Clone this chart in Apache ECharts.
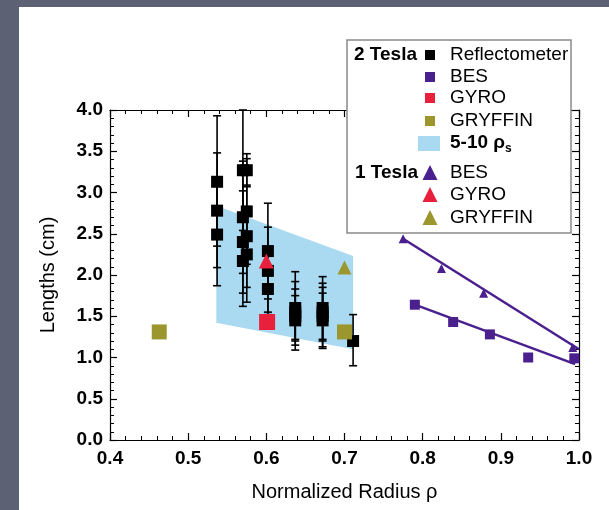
<!DOCTYPE html>
<html><head><meta charset="utf-8">
<script src="https://cdn.jsdelivr.net/npm/echarts@6/dist/echarts.min.js"></script>
<style>html,body{margin:0;padding:0;background:#5c6274}#c{width:609px;height:510px}</style>
</head><body><div id="c"></div><script>
// ---- data ----
const xRange = [0.4, 1.0];
const yRange = [0.0, 4.0];
// Reflectometer (2 T) points with error bars
const reflX  = [0.537,0.537,0.537, 0.570,0.570,0.570,0.570, 0.575,0.575,0.575,0.575, 0.602,0.602,0.602, 0.637,0.637,0.637,0.637, 0.672,0.672,0.672,0.672, 0.711];
const reflY  = [3.13,2.78,2.49, 3.27,2.70,2.40,2.17, 3.27,2.77,2.47,2.25, 2.29,2.05,1.83, 1.60,1.55,1.50,1.45, 1.60,1.55,1.50,1.45, 1.20];
const reflLo = [2.35,2.09,1.87, 2.54,2.02,1.78,1.62, 3.07,2.13,1.85,1.67, 1.71,1.52,1.55, 1.22,1.20,1.15,1.09, 1.22,1.20,1.13,1.11, 0.90];
const reflHi = [3.93,3.48,3.11, 4.00,3.38,3.02,2.72, 3.47,3.41,3.09,2.83, 2.87,2.58,2.11, 2.04,1.92,1.83,1.75, 1.98,1.90,1.85,1.78, 1.52];
// BES 2 T
const bes2X = [0.790,0.839,0.886,0.935,0.994];
const bes2Y = [1.64,1.43,1.28,1.00,0.99];
const bes2FitX = [0.790,0.995];
const bes2FitY = [1.64,0.92];
// BES 1 T
const bes1X = [0.775,0.824,0.878,0.992];
const bes1Y = [2.44,2.08,1.78,1.12];
const bes1FitX = [0.775,1.0];
const bes1FitY = [2.44,1.10];
// GYRO
const gyro2X = [0.601], gyro2Y = [1.43];
const gyro1X = [0.600], gyro1Y = [2.17];
// GRYFFIN
const gry2X = [0.463,0.700], gry2Y = [1.31,1.31];
const gry1X = [0.700], gry1Y = [2.09];
// 5-10 rho_s band
const bandX = [0.536,0.711];
const bandLow = [1.42,1.10];
const bandHigh = [2.84,2.23];
// legend
const legendGroups = ['2 Tesla','1 Tesla'];
const legendLabels = ['Reflectometer','BES','GYRO','GRYFFIN','5-10 ρs','BES','GYRO','GRYFFIN'];

// ---- styles ----
const FONT = 'Liberation Sans, Arial, Helvetica, sans-serif';
const C = {black:'#000000', purple:'#4a1f8e', red:'#e8203c', olive:'#9b962e', blue:'#a9daf2'};
const zip = (a,b)=>a.map((v,i)=>[v,b[i]]);

const chart = echarts.init(document.getElementById('c'), null, {renderer:'canvas'});

const axisCommon = {
  type:'value', axisLine:{show:true, onZero:false, lineStyle:{color:'#000', width:1.2}},
  axisTick:{show:true, inside:true, length:7, lineStyle:{color:'#000', width:1.2}},
  minorTick:{show:true, splitNumber:5, length:4, lineStyle:{color:'#000', width:1}},
  splitLine:{show:false}
};

const LZ = 200;
const legendItems = [];
// box
legendItems.push({type:'rect', z:LZ, shape:{x:347, y:40, width:224, height:193},
  style:{fill:'#fff', stroke:'#8a8a8a', lineWidth:1.5}});
const rowY = [55,77,98,121,143,173,195,218];
const markerKind = ['sq','sq','sq','sq','band','tri','tri','tri'];
const markerColor = [C.black,C.purple,C.red,C.olive,C.blue,C.purple,C.red,C.olive];
legendItems.push({type:'text', z:LZ+1, style:{x:417, y:rowY[0], text:legendGroups[0], font:'bold 19px '+FONT, fill:'#000', align:'right', verticalAlign:'middle'}});
legendItems.push({type:'text', z:LZ+1, style:{x:418, y:rowY[5], text:legendGroups[1], font:'bold 19px '+FONT, fill:'#000', align:'right', verticalAlign:'middle'}});
rowY.forEach((y,i)=>{
  const k = markerKind[i];
  if (k==='sq') {
    legendItems.push({type:'rect', z:LZ+1, shape:{x:425, y:y-5, width:10, height:10}, style:{fill:markerColor[i]}});
  } else if (k==='band') {
    legendItems.push({type:'rect', z:LZ+1, shape:{x:418, y:y-7, width:22, height:15}, style:{fill:markerColor[i]}});
  } else {
    legendItems.push({type:'polygon', z:LZ+1, shape:{points:[[430,y-8],[437.5,y+7],[422.5,y+7]]}, style:{fill:markerColor[i]}});
  }
  if (i===4) {
    legendItems.push({type:'text', z:LZ+1, style:{x:450, y:y, text:'{a|5-10 ρ}{b|s}', verticalAlign:'middle',
      rich:{a:{font:'bold 19px '+FONT, fill:'#000'}, b:{font:'bold 12px '+FONT, fill:'#000', verticalAlign:'bottom', padding:[12,0,0,0]}}}});
  } else {
    legendItems.push({type:'text', z:LZ+1, style:{x:450, y:y, text:legendLabels[i], font:'19px '+FONT, fill:'#000', verticalAlign:'middle'}});
  }
});

const option = {
  animation:false,
  backgroundColor:'#5c6274',
  grid:{left:110, right:30, top:110, bottom:70},
  graphic:{elements:[
    {type:'rect', z:-10, silent:true, shape:{x:19, y:7, width:600, height:510}, style:{fill:'#ffffff'}},
    {type:'group', z:LZ, zlevel:1, children:legendItems}
  ]},
  xAxis:[
    Object.assign({}, axisCommon, {min:xRange[0], max:xRange[1], interval:0.1, position:'bottom',
      name:'Normalized Radius ρ', nameLocation:'middle', nameGap:42,
      nameTextStyle:{fontFamily:FONT, fontSize:20, color:'#000'},
      axisLabel:{show:true, margin:9, color:'#000', fontFamily:FONT, fontSize:19, fontWeight:'bold', formatter:v=>v.toFixed(1)}}),
    Object.assign({}, axisCommon, {min:xRange[0], max:xRange[1], interval:0.1, position:'top', axisLabel:{show:false}})
  ],
  yAxis:[
    Object.assign({}, axisCommon, {min:yRange[0], max:yRange[1], interval:0.5, position:'left',
      name:'Lengths (cm)', nameLocation:'middle', nameGap:52, nameRotate:90,
      nameTextStyle:{fontFamily:FONT, fontSize:20, color:'#000'},
      axisLabel:{show:true, margin:7, color:'#000', fontFamily:FONT, fontSize:19, fontWeight:'bold', formatter:v=>v.toFixed(1)}}),
    Object.assign({}, axisCommon, {min:yRange[0], max:yRange[1], interval:0.5, position:'right', axisLabel:{show:false}})
  ],
  series:[
    {type:'custom', z:1, silent:true, data:[[bandX[0], bandLow[0]]],
      renderItem:(params, api)=>{
        const pts = [];
        for (let i=0;i<bandX.length;i++) pts.push(api.coord([bandX[i], bandLow[i]]));
        for (let i=bandX.length-1;i>=0;i--) pts.push(api.coord([bandX[i], bandHigh[i]]));
        return {type:'polygon', shape:{points:pts}, style:{fill:C.blue}};
      }},
    {type:'custom', z:2, silent:true, data:reflX.map((x,i)=>[x, reflLo[i], reflHi[i]]),
      encode:{x:0, y:[1,2]},
      renderItem:(params, api)=>{
        const lo = api.coord([api.value(0), api.value(1)]);
        const hi = api.coord([api.value(0), api.value(2)]);
        const st = {stroke:'#000', lineWidth:1.6};
        return {type:'group', children:[
          {type:'line', shape:{x1:lo[0], y1:lo[1], x2:hi[0], y2:hi[1]}, style:st},
          {type:'line', shape:{x1:lo[0]-4, y1:lo[1], x2:lo[0]+4, y2:lo[1]}, style:st},
          {type:'line', shape:{x1:hi[0]-4, y1:hi[1], x2:hi[0]+4, y2:hi[1]}, style:st}
        ]};
      }},
    {type:'scatter', z:3, data:zip(reflX, reflY), symbol:'rect', symbolSize:12, itemStyle:{color:C.black, opacity:1}},
    {type:'line', z:4, data:zip(bes2FitX, bes2FitY), showSymbol:false, symbol:'none', lineStyle:{color:C.purple, width:2.5}},
    {type:'line', z:4, data:zip(bes1FitX, bes1FitY), showSymbol:false, symbol:'none', lineStyle:{color:C.purple, width:2.5}},
    {type:'scatter', z:5, data:zip(bes2X, bes2Y), symbol:'rect', symbolSize:10, itemStyle:{color:C.purple, opacity:1}},
    {type:'scatter', z:5, data:zip(bes1X, bes1Y), symbol:'triangle', symbolSize:9, itemStyle:{color:C.purple, opacity:1}},
    {type:'scatter', z:6, data:zip(gyro2X, gyro2Y), symbol:'rect', symbolSize:16, itemStyle:{color:C.red, opacity:1}},
    {type:'scatter', z:6, data:zip(gyro1X, gyro1Y), symbol:'triangle', symbolSize:15, itemStyle:{color:C.red, opacity:1}},
    {type:'scatter', z:6, data:zip(gry2X, gry2Y), symbol:'rect', symbolSize:15, itemStyle:{color:C.olive, opacity:1}},
    {type:'scatter', z:6, data:zip(gry1X, gry1Y), symbol:'triangle', symbolSize:14, itemStyle:{color:C.olive, opacity:1}}
  ]
};
chart.setOption(option);
</script></body></html>
